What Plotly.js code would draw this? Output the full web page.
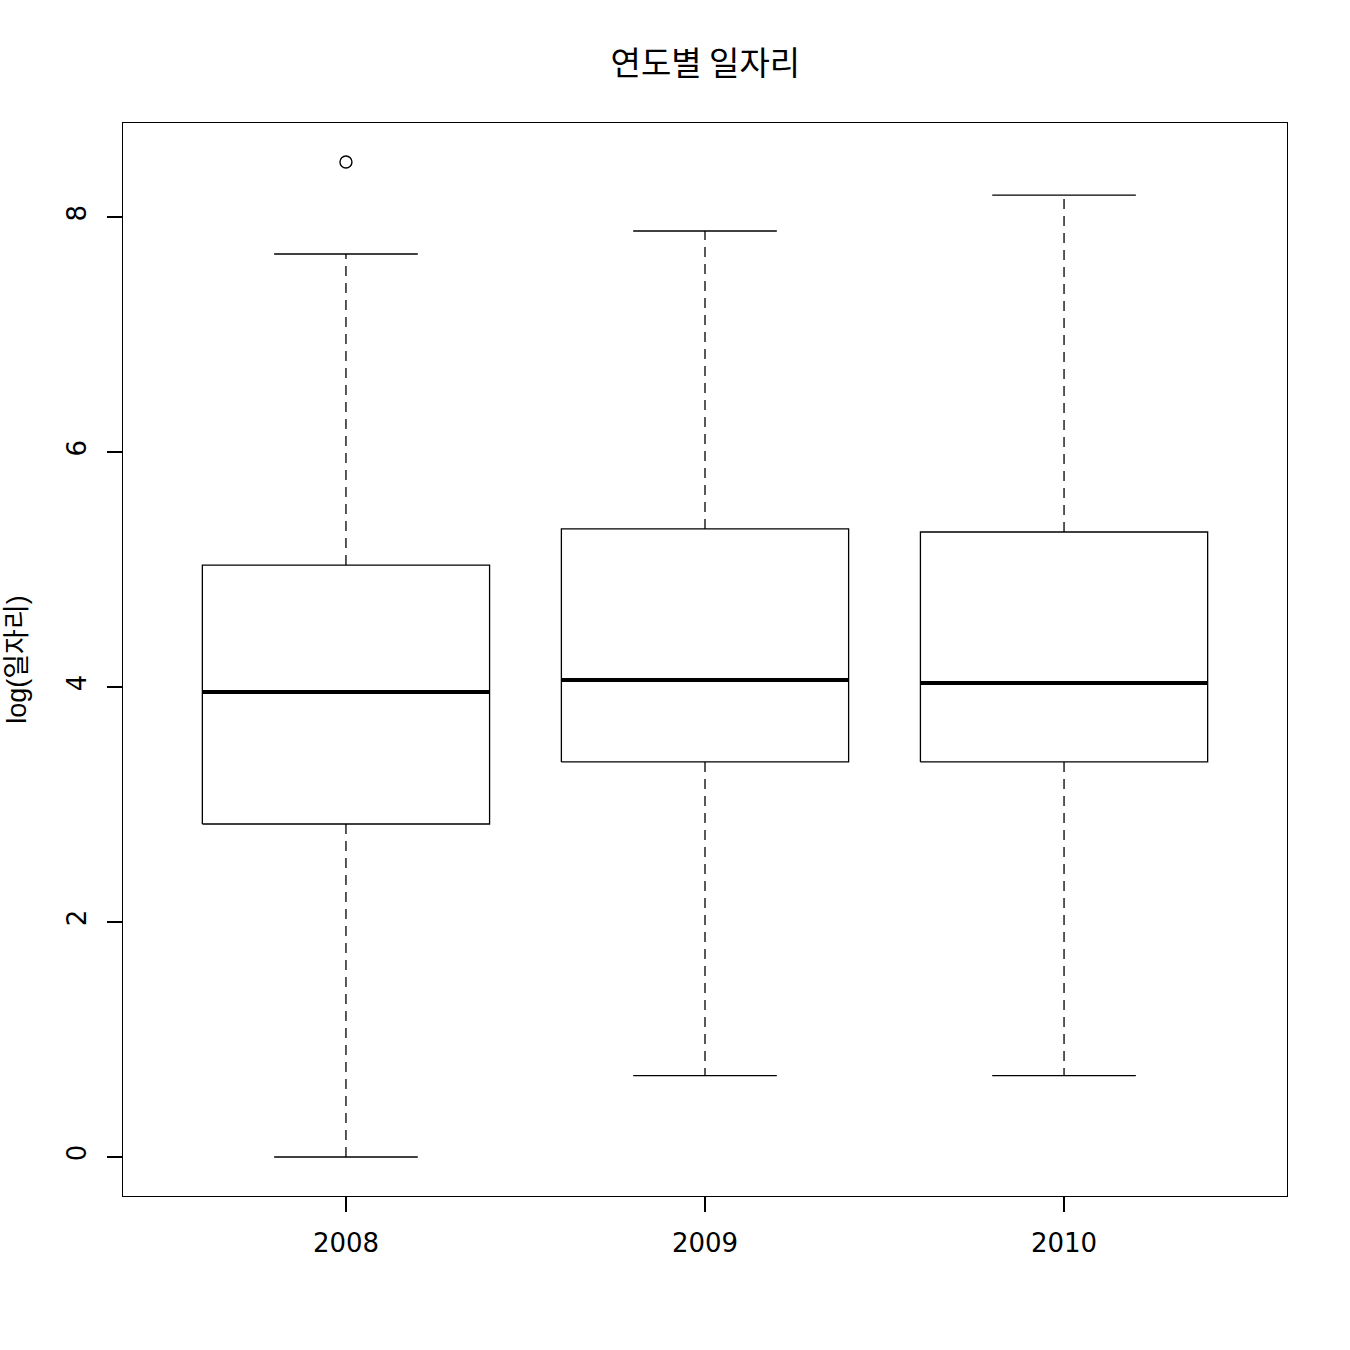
<!DOCTYPE html>
<html>
<head>
<meta charset="utf-8">
<script src="https://cdn.plot.ly/plotly-3.0.1.min.js"></script>
<style>body{margin:0;padding:0;background:#fff;}#chart{width:1350px;height:1350px;}</style>
</head>
<body>
<div id="chart"></div>
<script>
const years = ["2008", "2009", "2010"];
const lowerWhisker = [0.0, 0.693, 0.693];
const q1 = [2.834, 3.362, 3.362];
const median = [3.957, 4.060, 4.034];
const q3 = [5.038, 5.345, 5.319];
const upperWhisker = [7.685, 7.881, 8.187];
const outlierYear = ["2008"];
const outlierValue = [8.468];

const halfBox = 0.4, halfCap = 0.2;
const traces = [];
const base = {type: "scatter", mode: "lines", hoverinfo: "skip", showlegend: false};
const lw = 1.3;
years.forEach((yr, i) => {
  const c = i + 1;
  traces.push(Object.assign({}, base, {x: [c, c], y: [q3[i], upperWhisker[i]], line: {color: "#000", width: lw, dash: "10px,7px"}}));
  traces.push(Object.assign({}, base, {x: [c, c], y: [q1[i], lowerWhisker[i]], line: {color: "#000", width: lw, dash: "10px,7px"}}));
  traces.push(Object.assign({}, base, {x: [c - halfCap, c + halfCap], y: [upperWhisker[i], upperWhisker[i]], line: {color: "#000", width: lw}}));
  traces.push(Object.assign({}, base, {x: [c - halfCap, c + halfCap], y: [lowerWhisker[i], lowerWhisker[i]], line: {color: "#000", width: lw}}));
  traces.push(Object.assign({}, base, {x: [c - halfBox, c + halfBox, c + halfBox, c - halfBox, c - halfBox], y: [q1[i], q1[i], q3[i], q3[i], q1[i]], fill: "toself", fillcolor: "#fff", line: {color: "#000", width: lw}}));
  traces.push(Object.assign({}, base, {x: [c - halfBox, c + halfBox], y: [median[i], median[i]], line: {color: "#000", width: 4}}));
});
traces.push({type: "scatter", mode: "markers", showlegend: false, hoverinfo: "skip",
  x: outlierYear.map(y => years.indexOf(y) + 1), y: outlierValue,
  marker: {symbol: "circle-open", size: 12, color: "#000", line: {width: 1.4, color: "#000"}}});

const tickFont = {family: "DejaVu Sans, sans-serif", size: 26, color: "#000"};
const layout = {
  width: 1350, height: 1350,
  margin: {l: 123, r: 63, t: 123, b: 154, pad: 0},
  paper_bgcolor: "#fff", plot_bgcolor: "#fff",
  font: {family: "Liberation Sans, Noto Sans CJK KR, sans-serif", size: 24, color: "#000"},
  title: {text: "연도별 일자리", x: 0.5225, xanchor: "center", y: 0.953, yanchor: "middle", font: {family: "Noto Sans CJK KR, sans-serif", size: 33, color: "#000"}},
  xaxis: {range: [0.379, 3.621], tickvals: [1, 2, 3], ticktext: years, ticks: "outside", ticklen: 15, tickwidth: 1.3, tickcolor: "#000",
    ticklabelstandoff: 8,
    showline: true, linecolor: "#000", linewidth: 1.4, mirror: true, showgrid: false, zeroline: false, fixedrange: true,
    tickfont: tickFont},
  yaxis: {range: [-0.332, 8.8], tickvals: [0, 2, 4, 6, 8], ticktext: ["0", "2", "4", "6", "8"], ticks: "outside", ticklen: 15, tickwidth: 1.3, tickcolor: "#000",
    ticklabelstandoff: 10,
    tickangle: -90, showline: true, linecolor: "#000", linewidth: 1.4, mirror: true, showgrid: false, zeroline: false, fixedrange: true,
    tickfont: tickFont,
    title: {text: "log(일자리)", standoff: 27, font: {family: "Liberation Sans, Noto Sans CJK KR, sans-serif", size: 27}}},
};
Plotly.newPlot("chart", traces, layout, {staticPlot: true, displayModeBar: false});
</script>
</body>
</html>
